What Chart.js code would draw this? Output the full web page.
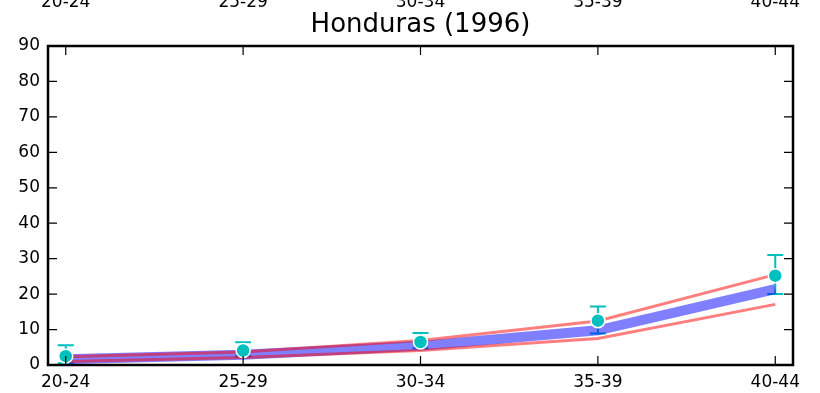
<!DOCTYPE html>
<html>
    <head>
        <meta charset="utf-8">
        <title>Honduras (1996)</title>
        <script src="https://cdn.jsdelivr.net/npm/chart.js@4/dist/chart.umd.min.js"></script>
        <style>
            body { margin: 0; background: white; }
        </style>
    </head>

    <body>
        <div style="width: 820px; height: 393px;">
            <canvas id="wykres" width="820" height="393"></canvas>
        </div>

        <script>
            var grupy = ["20-24", "25-29", "30-34", "35-39", "40-44"];
            var srednia = [1.6, 2.9, 5.4, 9.8, 21.4];
            var gorna = [2.3, 3.7, 6.9, 12.4, 25.5];
            var dolna = [1.0, 2.1, 4.1, 7.5, 17.1];
            var punkty = [2.5, 4.1, 6.5, 12.5, 25.2];
            var bladGora = [5.6, 6.4, 9.0, 16.5, 31.0];
            var bladDol = [0.5, 2.5, 4.7, 8.9, 20.0];
            var yTicks = [0, 10, 20, 30, 40, 50, 60, 70, 80, 90];

            var czcionka = "'DejaVu Sans', sans-serif";
            var turkus = "#00bfbf";

            function xy(values) {
                return values.map(function (v, i) { return {x: i, y: v}; });
            }

            function ustawTicki(scale) {
                scale.ticks = grupy.map(function (g, i) { return {value: i}; });
            }

            // error bars under the lines, frame and inward ticks on top
            var matplotlibowe = {
                id: "matplotlibowe",
                beforeDatasetsDraw: function (chart) {
                    var ctx = chart.ctx;
                    var x = chart.scales.x, y = chart.scales.y;
                    ctx.save();
                    ctx.strokeStyle = turkus;
                    ctx.lineWidth = 2;
                    for (let i = 0; i < grupy.length; ++i) {
                        var px = x.getPixelForValue(i);
                        var top = y.getPixelForValue(bladGora[i]);
                        var bot = y.getPixelForValue(bladDol[i]);
                        ctx.beginPath();
                        ctx.moveTo(px, top); ctx.lineTo(px, bot);
                        ctx.moveTo(px - 8, top); ctx.lineTo(px + 8, top);
                        ctx.moveTo(px - 8, bot); ctx.lineTo(px + 8, bot);
                        ctx.stroke();
                    }
                    ctx.restore();
                },
                afterDraw: function (chart) {
                    var ctx = chart.ctx;
                    var a = chart.chartArea;
                    var x = chart.scales.x, y = chart.scales.y;
                    ctx.save();
                    ctx.strokeStyle = "black";
                    ctx.lineWidth = 1.2;
                    ctx.beginPath();
                    yTicks.forEach(function (v) {
                        var py = y.getPixelForValue(v);
                        ctx.moveTo(a.left, py); ctx.lineTo(a.left + 9, py);
                        ctx.moveTo(a.right, py); ctx.lineTo(a.right - 9, py);
                    });
                    grupy.forEach(function (g, i) {
                        var px = x.getPixelForValue(i);
                        ctx.moveTo(px, a.bottom); ctx.lineTo(px, a.bottom - 9);
                        ctx.moveTo(px, a.top); ctx.lineTo(px, a.top + 9);
                    });
                    ctx.stroke();
                    ctx.lineWidth = 2.5;
                    ctx.strokeRect(a.left, a.top, a.right - a.left, a.bottom - a.top);
                    ctx.restore();
                }
            };

            var etykiety = {
                color: "black",
                font: {family: czcionka, size: 17},
                autoSkip: false,
                maxRotation: 0,
                callback: function (v) { return grupy[v]; }
            };

            var wykres = new Chart(document.getElementById("wykres").getContext("2d"), {
                type: "scatter",
                data: {
                    datasets: [{
                        label: "punkty",
                        data: xy(punkty),
                        pointRadius: 7,
                        pointHoverRadius: 7,
                        backgroundColor: turkus,
                        borderColor: "white",
                        borderWidth: 1.5,
                        order: 0
                    }, {
                        label: "gorna",
                        data: xy(gorna),
                        showLine: true,
                        pointRadius: 0,
                        borderColor: "rgba(255, 0, 0, 0.5)",
                        borderWidth: 3,
                        borderCapStyle: "butt",
                        order: 1
                    }, {
                        label: "dolna",
                        data: xy(dolna),
                        showLine: true,
                        pointRadius: 0,
                        borderColor: "rgba(255, 0, 0, 0.5)",
                        borderWidth: 3,
                        borderCapStyle: "butt",
                        order: 1
                    }, {
                        label: "srednia",
                        data: xy(srednia),
                        showLine: true,
                        pointRadius: 0,
                        borderColor: "rgba(0, 0, 255, 0.5)",
                        borderWidth: 10,
                        borderCapStyle: "butt",
                        order: 2
                    }]
                },
                options: {
                    responsive: false,
                    animation: false,
                    layout: {padding: {left: 0, right: 27, top: 0, bottom: 0}},
                    plugins: {
                        legend: {display: false},
                        tooltip: {enabled: false},
                        title: {
                            display: true,
                            text: "Honduras (1996)",
                            color: "black",
                            fullSize: false,
                            font: {family: czcionka, size: 26, weight: "normal", lineHeight: 1},
                            padding: {top: 0, bottom: 8}
                        }
                    },
                    scales: {
                        x: {
                            type: "linear",
                            position: "bottom",
                            min: -0.1,
                            max: 4.1,
                            afterBuildTicks: ustawTicki,
                            afterFit: function (s) { s.height = 28; },
                            grid: {display: false, drawTicks: false},
                            border: {display: false},
                            ticks: Object.assign({padding: 7}, etykiety)
                        },
                        x2: {
                            type: "linear",
                            position: "top",
                            weight: 3000,
                            min: -0.1,
                            max: 4.1,
                            afterBuildTicks: ustawTicki,
                            afterFit: function (s) { s.height = 12; },
                            grid: {display: false, drawTicks: false},
                            border: {display: false},
                            ticks: Object.assign({padding: -1}, etykiety)
                        },
                        y: {
                            min: 0,
                            max: 90,
                            afterBuildTicks: function (s) {
                                s.ticks = yTicks.map(function (v) { return {value: v}; });
                            },
                            afterFit: function (s) { s.width = 48; },
                            grid: {display: false, drawTicks: false},
                            border: {display: false},
                            ticks: {
                                color: "black",
                                padding: 8,
                                font: {family: czcionka, size: 17}
                            }
                        }
                    }
                },
                plugins: [matplotlibowe]
            });
        </script>
    </body>
</html>
